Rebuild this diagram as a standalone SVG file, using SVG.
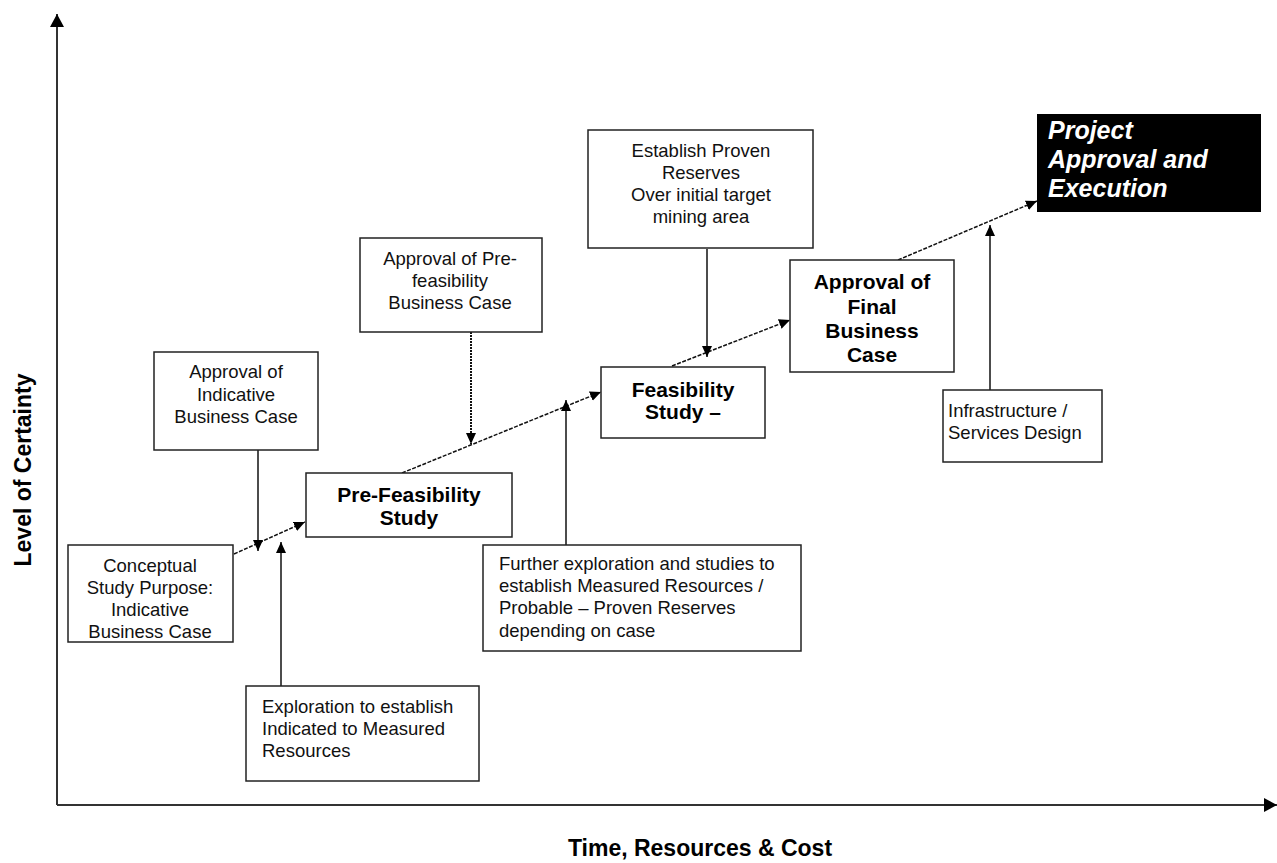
<svg xmlns="http://www.w3.org/2000/svg" width="1277" height="863" viewBox="0 0 1277 863">
<style>
.box{fill:#fff;stroke:#222;stroke-width:1.5}
.t{font-family:"Liberation Sans",Arial,sans-serif;font-size:18.5px;fill:#111}
.c{text-anchor:middle}
.b{font-family:"Liberation Sans",Arial,sans-serif;font-size:21px;font-weight:bold;fill:#000;text-anchor:middle}
.w{font-family:"Liberation Sans",Arial,sans-serif;font-size:25px;font-weight:bold;font-style:italic;fill:#fff}
.ax{font-family:"Liberation Sans",Arial,sans-serif;font-size:23px;font-weight:bold;fill:#000}
.chain{fill:none;stroke:#111;stroke-width:1.5;stroke-dasharray:4 1.5}
.v{fill:none;stroke:#111;stroke-width:1.5}
.dot{fill:none;stroke:#111;stroke-width:2;stroke-dasharray:2 1}
.axis{fill:none;stroke:#333;stroke-width:2}
</style>
<defs>
<marker id="ah" markerUnits="userSpaceOnUse" markerWidth="12" markerHeight="12" refX="11" refY="5" orient="auto">
<path d="M0,0 L11,5 L0,10 z" fill="#000"/>
</marker>
<marker id="axh" markerUnits="userSpaceOnUse" markerWidth="14" markerHeight="16" refX="13" refY="7" orient="auto">
<path d="M0,0 L13,7 L0,14 z" fill="#000"/>
</marker>
</defs>
<rect width="1277" height="863" fill="#fff"/>

<g id="axes">
<line class="axis" x1="57" y1="805" x2="57" y2="14" marker-end="url(#axh)"/>
<line class="axis" x1="57" y1="805" x2="1277" y2="805" marker-end="url(#axh)"/>
<text class="ax" x="700" y="856" text-anchor="middle">Time, Resources &amp; Cost</text>
<text class="ax" transform="translate(31,470) rotate(-90)" text-anchor="middle">Level of Certainty</text>
</g>

<g id="connectors">
<line class="chain" x1="234" y1="554" x2="305" y2="522" marker-end="url(#ah)"/>
<line class="chain" x1="402" y1="473" x2="601" y2="392" marker-end="url(#ah)"/>
<line class="chain" x1="672" y1="366" x2="790" y2="320" marker-end="url(#ah)"/>
<line class="chain" x1="898" y1="260" x2="1037" y2="201" marker-end="url(#ah)"/>
<line class="v" x1="258" y1="450" x2="258" y2="551" marker-end="url(#ah)"/>
<line class="v" x1="281" y1="686" x2="281" y2="542" marker-end="url(#ah)"/>
<line class="dot" x1="471" y1="332" x2="471" y2="444" marker-end="url(#ah)"/>
<line class="v" x1="566" y1="545" x2="566" y2="400" marker-end="url(#ah)"/>
<line class="v" x1="707" y1="249" x2="707" y2="357" marker-end="url(#ah)"/>
<line class="v" x1="990" y1="390" x2="990" y2="225" marker-end="url(#ah)"/>
</g>

<g id="approval-indicative">
<rect class="box" x="154" y="352" width="164" height="98"/>
<text class="t c" x="236" y="378">Approval of</text>
<text class="t c" x="236" y="401">Indicative</text>
<text class="t c" x="236" y="423">Business Case</text>
</g>

<g id="conceptual">
<rect class="box" x="68" y="545" width="165" height="97"/>
<text class="t c" x="150" y="572">Conceptual</text>
<text class="t c" x="150" y="594">Study Purpose:</text>
<text class="t c" x="150" y="616">Indicative</text>
<text class="t c" x="150" y="638">Business Case</text>
</g>

<g id="pre-feasibility">
<rect class="box" x="306" y="473" width="206" height="64"/>
<text class="b" x="409" y="502">Pre-Feasibility</text>
<text class="b" x="409" y="525">Study</text>
</g>

<g id="approval-prefeasibility">
<rect class="box" x="360" y="238" width="182" height="94"/>
<text class="t c" x="450" y="265">Approval of Pre-</text>
<text class="t c" x="450" y="287">feasibility</text>
<text class="t c" x="450" y="309">Business Case</text>
</g>

<g id="establish-proven">
<rect class="box" x="588" y="130" width="225" height="118"/>
<text class="t c" x="701" y="157">Establish Proven</text>
<text class="t c" x="701" y="179">Reserves</text>
<text class="t c" x="701" y="201">Over initial target</text>
<text class="t c" x="701" y="223">mining area</text>
</g>

<g id="feasibility">
<rect class="box" x="601" y="367" width="164" height="71"/>
<text class="b" x="683" y="397">Feasibility</text>
<text class="b" x="683" y="419">Study –</text>
</g>

<g id="approval-final">
<rect class="box" x="790" y="260" width="164" height="112"/>
<text class="b" x="872" y="289">Approval of</text>
<text class="b" x="872" y="314">Final</text>
<text class="b" x="872" y="338">Business</text>
<text class="b" x="872" y="362">Case</text>
</g>

<g id="project-approval">
<rect x="1037" y="114" width="224" height="98" fill="#000"/>
<text class="w" x="1048" y="139">Project</text>
<text class="w" x="1048" y="168">Approval and</text>
<text class="w" x="1048" y="197">Execution</text>
</g>

<g id="infrastructure">
<rect class="box" x="943" y="390" width="159" height="72"/>
<text class="t" x="948" y="417">Infrastructure /</text>
<text class="t" x="948" y="439">Services Design</text>
</g>

<g id="further-exploration">
<rect class="box" x="483" y="545" width="318" height="106"/>
<text class="t" x="499" y="570">Further exploration and studies to</text>
<text class="t" x="499" y="592">establish Measured Resources /</text>
<text class="t" x="499" y="614">Probable – Proven Reserves</text>
<text class="t" x="499" y="637">depending on case</text>
</g>

<g id="exploration">
<rect class="box" x="246" y="686" width="233" height="95"/>
<text class="t" x="262" y="713">Exploration to establish</text>
<text class="t" x="262" y="735">Indicated to Measured</text>
<text class="t" x="262" y="757">Resources</text>
</g>
</svg>
